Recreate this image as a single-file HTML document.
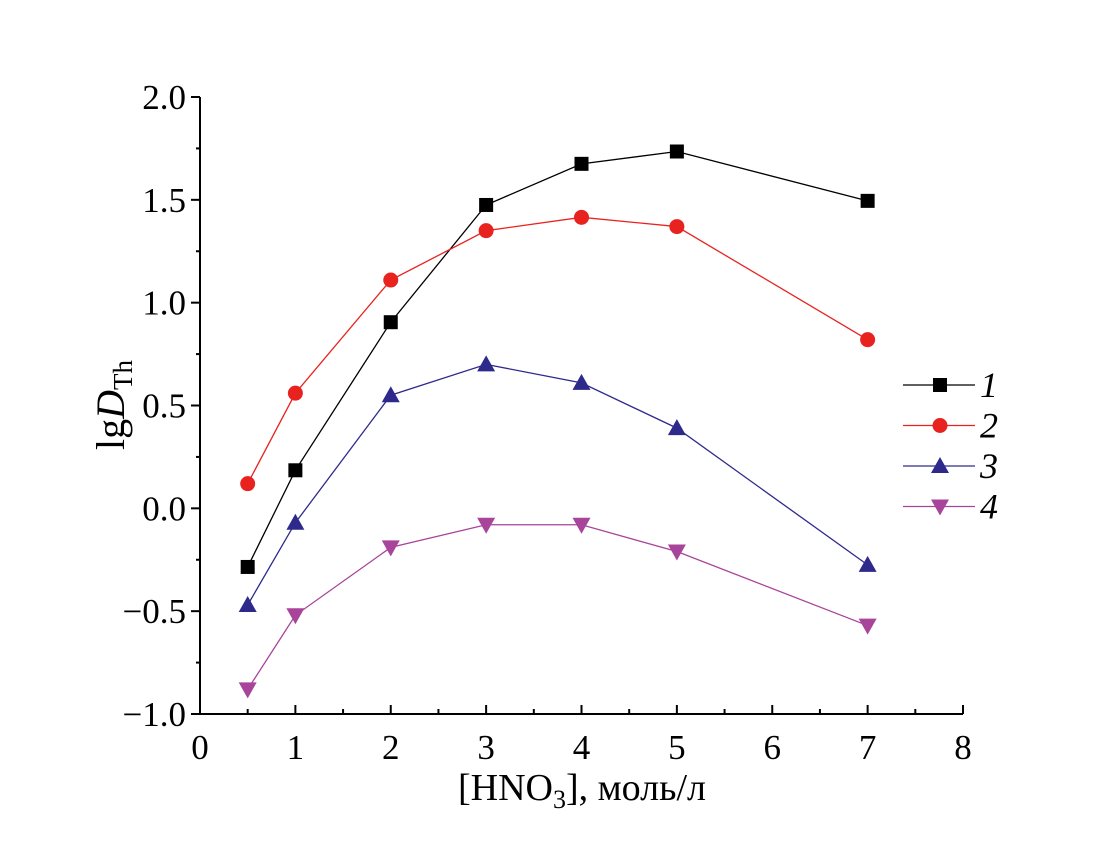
<!DOCTYPE html>
<html><head><meta charset="utf-8"><style>
body{margin:0;background:#fff}
svg text{font-family:"Liberation Serif",serif;fill:#000}
</style></head><body>
<svg id="c" width="1118" height="856" xmlns="http://www.w3.org/2000/svg"></svg>
<script>
const xValues=[0.5,1,2,3,4,5,7];
const series1=[-0.285,0.185,0.905,1.475,1.675,1.735,1.495];
const series2=[0.12,0.56,1.11,1.35,1.415,1.37,0.82];
const series3=[-0.47,-0.07,0.55,0.70,0.61,0.39,-0.275];
const series4=[-0.88,-0.52,-0.19,-0.08,-0.08,-0.21,-0.57];
const seriesLabels=["1","2","3","4"];
const xTicks=[0,1,2,3,4,5,6,7,8];
const yTicks=[-1.0,-0.5,0.0,0.5,1.0,1.5,2.0];
const yTickLabels=["\u22121.0","\u22120.5","0.0","0.5","1.0","1.5","2.0"];

const svg=document.getElementById('c');
const NS='http://www.w3.org/2000/svg';
const X0=200,X1=963,Y0=714,Y1=97;
const sx=v=>X0+(v-0)*(X1-X0)/8;
const sy=v=>Y0-(v+1)*(Y0-Y1)/3;
function mk(t,a,p){const e=document.createElementNS(NS,t);for(const k in a)e.setAttribute(k,a[k]);(p||svg).appendChild(e);return e;}

const axes=mk('g',{stroke:'#000','stroke-width':2,fill:'none'});


mk('path',{d:`M${X0} ${Y1}V${Y0}H${X1}`},axes);
for(let v=0;v<=8;v+=0.5){const l=(v%1===0)?9:5;mk('line',{x1:sx(v),x2:sx(v),y1:Y0,y2:Y0-l},axes);}
for(let v=-1;v<=2.001;v+=0.25){const l=(Math.abs(v*2-Math.round(v*2))<1e-6)?9:4;mk('line',{x1:X0,x2:X0-l,y1:sy(v),y2:sy(v)},axes);}

xTicks.forEach(v=>{const t=mk('text',{x:sx(v),y:Y0+45,'text-anchor':'middle','font-size':35});t.textContent=v;

});
yTicks.forEach((v,i)=>{const t=mk('text',{x:186,y:sy(v)+12,'text-anchor':'end','font-size':35});t.textContent=yTickLabels[i];

});

const xt=mk('text',{x:582,y:800,'text-anchor':'middle','font-size':38});
xt.innerHTML='[HNO<tspan font-size="26" dy="8">3</tspan><tspan dy="-8">], моль/л</tspan>';


const yt=mk('text',{transform:'translate(124,405) rotate(-90)','text-anchor':'middle','font-size':40});
yt.innerHTML='lg<tspan font-style="italic">D</tspan><tspan font-size="27" dy="8">Th</tspan>';



const colors=['#000000','#e8231f','#2e2a8c','#a8449a'];
const all=[series1,series2,series3,series4];
function marker(k,x,y,c,p){
 if(k===0)return mk('rect',{x:x-7,y:y-7,width:14,height:14,fill:c},p);
 if(k===1)return mk('circle',{cx:x,cy:y,r:7.5,fill:c},p);
 if(k===2)return mk('path',{d:`M${x} ${y-9}L${x+9} ${y+7}L${x-9} ${y+7}Z`,fill:c},p);
 return mk('path',{d:`M${x} ${y+9}L${x+9} ${y-7}L${x-9} ${y-7}Z`,fill:c},p);
}
all.forEach((s,k)=>{
 const g=mk('g',{});
 
 
 const ln=mk('polyline',{points:s.map((v,i)=>sx(xValues[i])+','+sy(v)).join(' '),fill:'none',stroke:colors[k],'stroke-width':1.3},g);
 
 
 s.forEach((v,i)=>{const m=marker(k,sx(xValues[i]),sy(v),colors[k],g);
  
  });
 const ly=385+k*40.5;
 const lg=mk('g',{});
 
 
 mk('line',{x1:903,x2:975,y1:ly,y2:ly,stroke:colors[k],'stroke-width':1.3},lg);
 marker(k,940,ly,colors[k],lg);
 const t=mk('text',{x:980,y:ly+12,'font-size':36,'font-style':'italic'},lg);t.textContent=seriesLabels[k];
});
</script>
</body></html>
